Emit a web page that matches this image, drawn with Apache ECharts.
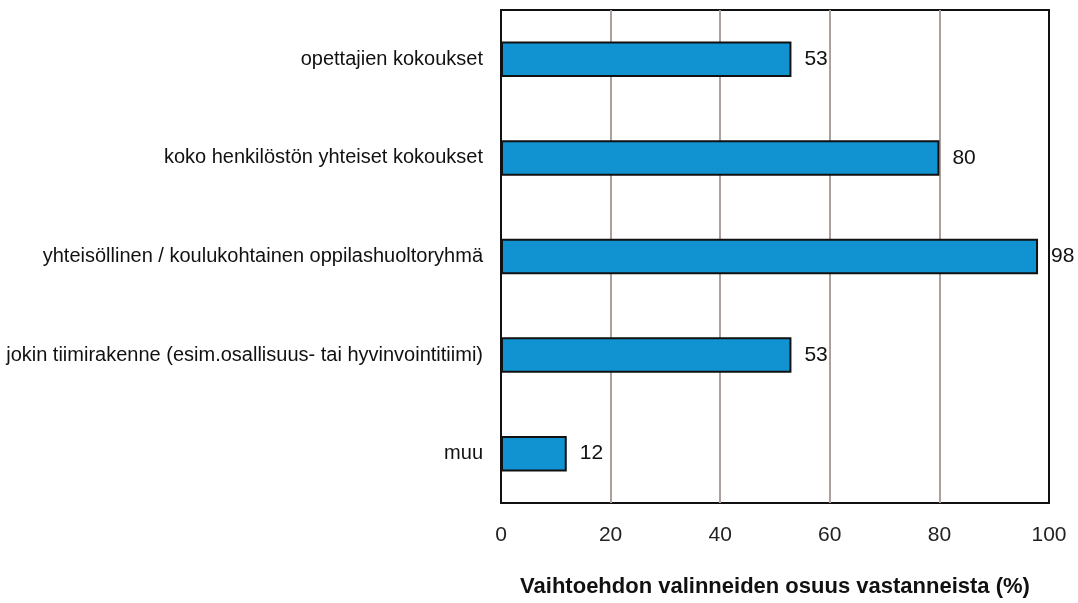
<!DOCTYPE HTML>
<html lang="fi">
  <head>
    <meta charset="utf-8" />
    <script src="https://cdn.jsdelivr.net/npm/echarts@6.0.0/dist/echarts.min.js"></script>
    <style>
      html, body {
        height: 100%;
        padding: 0;
        margin: 0;
        background: #fff;
      }
      #chart {
        width: 1078px;
        height: 603px;
      }
    </style>
  </head>
  <body>
    <div id="chart"></div>
    <script>
      // categories top to bottom
      var categories = [
        'opettajien kokoukset',
        'koko henkilöstön yhteiset kokoukset',
        'yhteisöllinen / koulukohtainen oppilashuoltoryhmä',
        'jokin tiimirakenne (esim.osallisuus- tai hyvinvointitiimi)',
        'muu'
      ];
      var values = [53, 80, 98, 53, 12];
      var axisTitle = 'Vaihtoehdon valinneiden osuus vastanneista (%)';
      var font = '"Liberation Sans", Arial, sans-serif';

      var chart = echarts.init(document.getElementById('chart'));

      var option = {
        animation: false,
        grid: {
          left: 501,
          right: 29,
          top: 10,
          bottom: 100,
          containLabel: false,
          show: true,
          borderColor: '#111',
          borderWidth: 2
        },
        xAxis: {
          type: 'value',
          min: 0,
          max: 100,
          interval: 20,
          name: axisTitle,
          nameLocation: 'middle',
          nameGap: 73,
          nameTextStyle: {
            fontFamily: font,
            fontWeight: 'bold',
            fontSize: 22,
            color: '#111'
          },
          axisLine: { show: false },
          axisTick: { show: false },
          axisLabel: {
            margin: 22,
            fontFamily: font,
            fontSize: 21,
            color: '#222'
          },
          splitLine: {
            show: true,
            showMinLine: false,
            showMaxLine: false,
            lineStyle: { color: '#aaa19c', width: 2 }
          }
        },
        yAxis: {
          type: 'category',
          data: categories,
          inverse: true,
          axisLine: { show: false },
          axisTick: { show: false },
          axisLabel: {
            margin: 18,
            fontFamily: font,
            fontSize: 20,
            color: '#111'
          }
        },
        series: [{
          type: 'bar',
          data: values,
          barWidth: '36%',
          itemStyle: {
            color: '#1193d2',
            borderColor: '#111',
            borderWidth: 2
          },
          label: {
            show: true,
            position: 'right',
            distance: 13,
            fontFamily: font,
            fontSize: 21,
            color: '#111'
          }
        }]
      };

      chart.setOption(option);
    </script>
  </body>
</html>
